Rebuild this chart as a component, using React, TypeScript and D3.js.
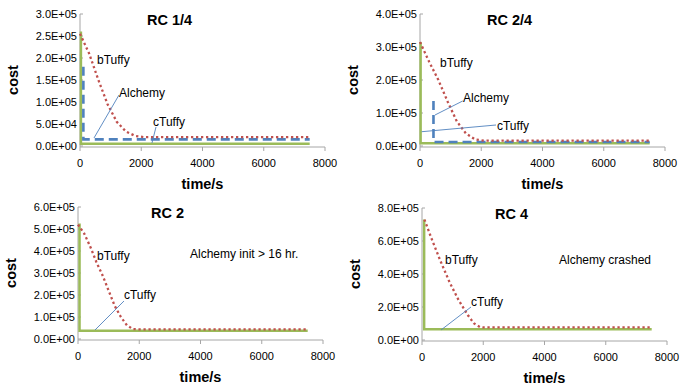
import * as d3 from 'd3'

// series values: [time (s), cost]
const rc14_bTuffy = [[0, 255000], [300, 210000], [600, 150000], [900, 95000], [1200, 55000], [1500, 33000], [1800, 23000], [2100, 20000], [7500, 20000]]
const rc14_cTuffy = [[30, 260000], [30, 5000], [7500, 5000]]
const rc14_alchemy = [[110, 180000], [110, 15000], [7500, 15000]]

const rc24_bTuffy = [[0, 315000], [300, 255000], [600, 200000], [900, 135000], [1200, 75000], [1500, 38000], [1800, 20000], [2100, 16000], [7500, 16000]]
const rc24_cTuffy = [[20, 315000], [20, 8000], [7500, 8000]]
const rc24_alchemy = [[440, 136000], [440, 12000], [7500, 12000]]

const rc2_bTuffy = [[0, 520000], [200, 480000], [400, 420000], [600, 350000], [800, 290000], [1000, 220000], [1200, 150000], [1400, 100000], [1600, 62000], [1800, 45000], [2000, 44000], [7500, 44000]]
const rc2_cTuffy = [[50, 525000], [50, 38000], [7500, 38000]]

const rc4_bTuffy = [[80, 730000], [300, 620000], [600, 480000], [900, 350000], [1200, 240000], [1500, 150000], [1700, 100000], [1900, 78000], [2000, 76000], [7500, 76000]]
const rc4_cTuffy = [[70, 730000], [70, 65000], [7500, 65000]]

const xTicks = [0, 2000, 4000, 6000, 8000]

// annotations: label, text anchor [t, v], optional leader line [[t, v], [t, v]]
type Note = { text: string; at: number[]; line?: number[][] }

const rc14_notes: Note[] = [
  { text: 'bTuffy', at: [555, 197000] },
  { text: 'Alchemy', at: [1273, 120500], line: [[1273, 115900], [457, 18200]] },
  { text: 'cTuffy', at: [2384, 54500], line: [[2482, 43200], [2351, 6800]] },
]
const rc24_notes: Note[] = [
  { text: 'bTuffy', at: [653, 251500] },
  { text: 'Alchemy', at: [1404, 145500], line: [[1394, 136400], [490, 93900]] },
  { text: 'cTuffy', at: [2514, 60600], line: [[2482, 63600], [55, 43300]] },
]
const rc2_notes: Note[] = [
  { text: 'bTuffy', at: [620, 377300] },
  { text: 'cTuffy', at: [1502, 200000], line: [[1502, 172700], [555, 40900]] },
  { text: 'Alchemy init > 16 hr.', at: [3657, 386400] },
]
const rc4_notes: Note[] = [
  { text: 'bTuffy', at: [751, 484800] },
  { text: 'cTuffy', at: [1600, 230300], line: [[1600, 200000], [620, 60600]] },
  { text: 'Alchemy crashed', at: [4473, 484800] },
]

const PANELS = [
  { title: 'RC 1/4', yMax: 300000, yStep: 50000, x0: 80, x1: 325, yTop: 14, yBot: 146, b: rc14_bTuffy, c: rc14_cTuffy, a: rc14_alchemy, notes: rc14_notes },
  { title: 'RC 2/4', yMax: 400000, yStep: 100000, x0: 420, x1: 665, yTop: 14, yBot: 146, b: rc24_bTuffy, c: rc24_cTuffy, a: rc24_alchemy, notes: rc24_notes },
  { title: 'RC 2', yMax: 600000, yStep: 100000, x0: 78, x1: 323, yTop: 207, yBot: 339, b: rc2_bTuffy, c: rc2_cTuffy, a: null, notes: rc2_notes },
  { title: 'RC 4', yMax: 800000, yStep: 200000, x0: 422, x1: 667, yTop: 208, yBot: 340, b: rc4_bTuffy, c: rc4_cTuffy, a: null, notes: rc4_notes },
]

const FONT = '"Liberation Sans", Arial, sans-serif'
const AXIS = '#a6a6a6'

const fmtE = (v: number) => {
  const [m, e] = v.toExponential(1).split('e')
  const sign = e[0] === '-' ? '-' : '+'
  const digits = e.replace(/[+-]/, '').padStart(2, '0')
  return `${m}E${sign}${digits}`
}

function Panel({ p }: { p: typeof PANELS[number] }) {
  const x = d3.scaleLinear().domain([0, 8000]).range([p.x0, p.x1])
  const y = d3.scaleLinear().domain([0, p.yMax]).range([p.yBot, p.yTop])
  const line = d3.line<number[]>().x(d => x(d[0])).y(d => y(d[1]))
  const yTicks = d3.range(0, p.yMax + 1, p.yStep)
  const mid = (p.x0 + p.x1) / 2

  return (
    <g>
      {/* y axis */}
      <line x1={p.x0} x2={p.x0} y1={p.yTop} y2={p.yBot + 1} stroke={AXIS} />
      {yTicks.map(t => (
        <g key={t}>
          <line x1={p.x0} x2={p.x0 + 3} y1={y(t)} y2={y(t)} stroke={AXIS} />
          <text x={p.x0 - 3} y={y(t)} dy="0.35em" textAnchor="end" fontSize={11} fontFamily={FONT} fill="#000">
            {fmtE(t)}
          </text>
        </g>
      ))}
      {/* x axis */}
      <line x1={p.x0} x2={p.x1} y1={p.yBot + 1} y2={p.yBot + 1} stroke={AXIS} />
      {xTicks.map(t => (
        <g key={t}>
          <line x1={x(t)} x2={x(t)} y1={p.yBot + 1} y2={p.yBot + 5} stroke={AXIS} />
          <text x={x(t)} y={p.yBot + 21} textAnchor="middle" fontSize={11} fontFamily={FONT} fill="#000">
            {t}
          </text>
        </g>
      ))}

      <path d={line(p.c) ?? ''} fill="none" stroke="#9bbb59" strokeWidth={2.5} />
      {p.a && <path d={line(p.a) ?? ''} fill="none" stroke="#4f81bd" strokeWidth={2.6} strokeDasharray="9,5" />}
      <path d={line(p.b) ?? ''} fill="none" stroke="#c0504d" strokeWidth={2.3} strokeDasharray="2.3,2.7" />

      {p.notes.map(n => (
        <g key={n.text}>
          {n.line && (
            <line x1={x(n.line[0][0])} y1={y(n.line[0][1])} x2={x(n.line[1][0])} y2={y(n.line[1][1])} stroke="#4f81bd" strokeWidth={0.9} />
          )}
          <text x={x(n.at[0])} y={y(n.at[1])} dy="0.35em" fontSize={12} fontFamily={FONT} fill="#000">
            {n.text}
          </text>
        </g>
      ))}

      <text x={mid - 33} y={p.yTop + 11} textAnchor="middle" fontSize={14.5} fontWeight="bold" fontFamily={FONT}>
        {p.title}
      </text>
      <text x={mid} y={p.yBot + 43} textAnchor="middle" fontSize={14.5} fontWeight="bold" fontFamily={FONT}>
        time/s
      </text>
      <text transform={`translate(${p.x0 - 62},${(p.yTop + p.yBot) / 2}) rotate(-90)`} textAnchor="middle" fontSize={14.5} fontWeight="bold" fontFamily={FONT}>
        cost
      </text>
    </g>
  )
}

export default function App() {
  return (
    <svg width={680} height={389} style={{ position: 'absolute', left: 0, top: 0, background: '#fff' }}>
      {PANELS.map(p => <Panel key={p.title} p={p} />)}
    </svg>
  )
}
